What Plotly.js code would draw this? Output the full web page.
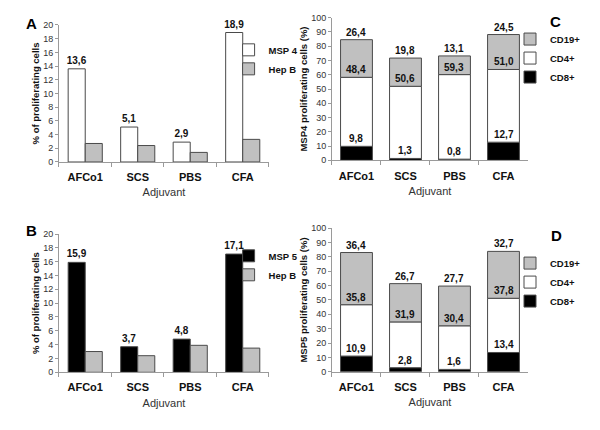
<!DOCTYPE html>
<html>
<head>
<meta charset="utf-8">
<script src="https://cdn.plot.ly/plotly-3.0.1.min.js"></script>
<style>
  html, body { margin: 0; padding: 0; background: #fff; }
  #chart { width: 600px; height: 430px; }
</style>
</head>
<body>
<div id="chart"></div>
<script>
const categories = ['AFCo1', 'SCS', 'PBS', 'CFA'];

// panel A
const msp4 = [13.6, 5.1, 2.9, 18.9];
const hepBA = [2.7, 2.4, 1.4, 3.3];

// panel B
const msp5 = [15.9, 3.7, 4.8, 17.1];
const hepBB = [3.0, 2.4, 3.9, 3.5];

// panel C (MSP4 subsets)
const cd8C = [9.8, 1.3, 0.8, 12.7];
const cd4C = [48.4, 50.6, 59.3, 51.0];
const cd19C = [26.4, 19.8, 13.1, 24.5];

// panel D (MSP5 subsets)
const cd8D = [10.9, 2.8, 1.6, 13.4];
const cd4D = [35.8, 31.9, 30.4, 37.8];
const cd19D = [36.4, 26.7, 27.7, 32.7];

const FONT = 'Liberation Sans, Arial, sans-serif';
const OUTLINE = { color: '#4a4a4a', width: 1 };
const GREY = '#c0c0c0';
const fmt = (v) => v.toFixed(1).replace('.', ',');
const addArr = (a, b) => a.map((v, i) => v + b[i]);

function groupedPair(first, second, firstName, firstColor, axes, legend) {
  return [
    {
      type: 'bar', name: firstName, x: categories, y: first,
      xaxis: axes[0], yaxis: axes[1], legend,
      width: 0.325, offset: -0.325,
      marker: { color: firstColor, line: OUTLINE },
      text: first.map(fmt), textposition: 'outside', constraintext: 'none',
      textfont: { family: FONT, size: 10, color: '#111', weight: 'bold' },
      cliponaxis: false,
    },
    {
      type: 'bar', name: 'Hep B', x: categories, y: second,
      xaxis: axes[0], yaxis: axes[1], legend,
      width: 0.325, offset: 0,
      marker: { color: GREY, line: OUTLINE },
    },
  ];
}

function stacked(cd8, cd4, cd19, axes, legend) {
  const base4 = cd8;
  const base19 = addArr(cd8, cd4);
  const common = { type: 'bar', x: categories, xaxis: axes[0], yaxis: axes[1], legend, width: 0.65 };
  return [
    { ...common, name: 'CD8+', y: cd8, base: 0, marker: { color: '#000', line: OUTLINE } },
    { ...common, name: 'CD4+', y: cd4, base: base4, marker: { color: '#fff', line: OUTLINE } },
    { ...common, name: 'CD19+', y: cd19, base: base19, marker: { color: GREY, line: OUTLINE } },
  ];
}

function segmentLabels(cd8, cd4, cd19, axes) {
  const top8 = cd8;
  const top4 = addArr(cd8, cd4);
  const top19 = addArr(top4, cd19);
  const out = [];
  [[cd8, top8], [cd4, top4], [cd19, top19]].forEach(([vals, tops]) => {
    vals.forEach((v, i) => {
      out.push({
        xref: axes[0], yref: axes[1], x: categories[i], y: tops[i],
        text: fmt(v), showarrow: false, xanchor: 'center', yanchor: 'bottom',
        font: { family: FONT, size: 10, color: '#111', weight: 'bold' },
      });
    });
  });
  return out;
}

const data = [
  ...groupedPair(msp4, hepBA, 'MSP 4', '#fff', ['x', 'y'], 'legend'),
  ...groupedPair(msp5, hepBB, 'MSP 5', '#000', ['x2', 'y2'], 'legend2'),
  ...stacked(cd8C, cd4C, cd19C, ['x3', 'y3'], 'legend3'),
  ...stacked(cd8D, cd4D, cd19D, ['x4', 'y4'], 'legend4'),
];

function xAxis(domain, anchor) {
  return {
    domain, anchor, type: 'category', range: [-0.5, 3.5],
    showline: true, linecolor: '#9a9a9a', linewidth: 1,
    ticks: 'outside', tickson: 'boundaries', ticklen: 4, tickcolor: '#9a9a9a',
    ticklabelstandoff: 5,
    tickfont: { family: FONT, size: 11, color: '#111', weight: 'bold' },
    title: { text: 'Adjuvant', font: { family: FONT, size: 11, color: '#333' }, standoff: 6 },
    showgrid: false, zeroline: false, fixedrange: true,
  };
}

function yAxis(domain, anchor, max, dtick, title) {
  return {
    domain, anchor, range: [0, max], dtick,
    showline: true, linecolor: '#9a9a9a', linewidth: 1,
    ticks: 'outside', ticklen: 3, tickcolor: '#9a9a9a',
    tickfont: { family: FONT, size: 9, color: '#333' },
    title: { text: title, font: { family: FONT, size: 9.5, color: '#111', weight: 'bold' }, standoff: 1 },
    showgrid: false, zeroline: false, fixedrange: true,
  };
}

function legendAt(x, y, reversed) {
  return {
    x, y, xanchor: 'left', yanchor: 'middle', xref: 'paper', yref: 'paper',
    bgcolor: 'rgba(0,0,0,0)', borderwidth: 0,
    traceorder: reversed ? 'reversed' : 'normal',
    font: { family: FONT, size: 9.5, color: '#111', weight: 'bold' },
  };
}

function panelLetter(text, x, y) {
  return {
    xref: 'paper', yref: 'paper', x, y, text, showarrow: false,
    xanchor: 'center', yanchor: 'middle',
    font: { family: FONT, size: 15, color: '#000', weight: 'bold' },
  };
}

const layout = {
  width: 600,
  height: 430,
  margin: { l: 0, r: 0, t: 0, b: 0 },
  barmode: 'overlay',
  showlegend: true,
  paper_bgcolor: '#fff',
  plot_bgcolor: 'rgba(0,0,0,0)',
  font: { family: FONT },
  xaxis: xAxis([0.0983, 0.4483], 'y'),
  yaxis: yAxis([0.6233, 0.9419], 'x', 20, 2, '% of proliferating cells'),
  xaxis2: xAxis([0.0983, 0.4483], 'y2'),
  yaxis2: yAxis([0.1342, 0.4558], 'x2', 20, 2, '% of proliferating cells'),
  xaxis3: xAxis([0.5533, 0.88], 'y3'),
  yaxis3: yAxis([0.6272, 0.9588], 'x3', 100, 10, 'MSP4 proliferating cells (%)'),
  xaxis4: xAxis([0.5533, 0.88], 'y4'),
  yaxis4: yAxis([0.1356, 0.4691], 'x4', 100, 10, 'MSP5 proliferating cells (%)'),
  legend: legendAt(0.381, 0.862, false),
  legend2: legendAt(0.381, 0.383, false),
  legend3: legendAt(0.85, 0.865, true),
  legend4: legendAt(0.85, 0.344, true),
  annotations: [
    ...segmentLabels(cd8C, cd4C, cd19C, ['x3', 'y3']),
    ...segmentLabels(cd8D, cd4D, cd19D, ['x4', 'y4']),
    panelLetter('A', 0.053, 0.9465),
    panelLetter('B', 0.053, 0.465),
    panelLetter('C', 0.925, 0.949),
    panelLetter('D', 0.928, 0.453),
  ],
};

Plotly.newPlot('chart', data, layout, { displayModeBar: false, staticPlot: true });
</script>
</body>
</html>
